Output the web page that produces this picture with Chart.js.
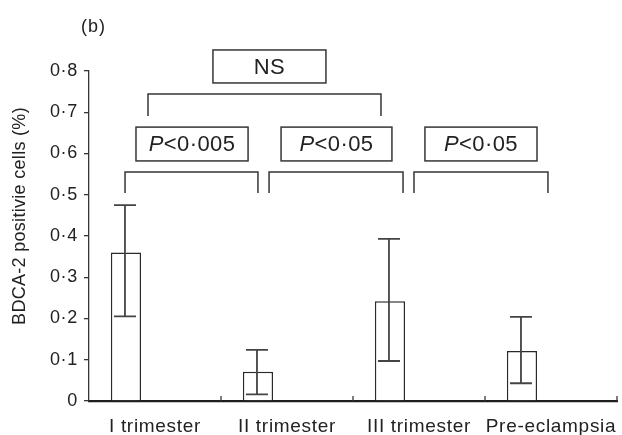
<!DOCTYPE html>
<html>
<head>
<meta charset="utf-8">
<script src="https://cdn.jsdelivr.net/npm/chart.js@4"></script>
<style>
  html, body { margin: 0; padding: 0; background: #fff; }
  #wrap { width: 622px; height: 435px; position: relative; }
</style>
</head>
<body>
<div id="wrap"><canvas id="c"></canvas></div>
<script>
// ---- data ----
const categories = ['I trimester', 'II trimester', 'III trimester', 'Pre-eclampsia'];
const meanValues = [0.36, 0.071, 0.242, 0.121];
const upperValues = [0.475, 0.124, 0.393, 0.204];
const lowerValues = [0.205, 0.016, 0.097, 0.043];
const yTickValues = [0, 0.1, 0.2, 0.3, 0.4, 0.5, 0.6, 0.7, 0.8];
const comparisonLabels = ['P<0·005', 'P<0·05', 'P<0·05', 'NS'];
const panelLabel = '(b)';
const yTitle = 'BDCA-2 positivie cells (%)';

// ---- annotation geometry (category units / value units) ----
const bracketGeom = [
  { x0: -0.227, x1: 0.78,  y: 0.555, leg: 0.504, bx0: -0.144, bx1: 0.705, by0: 0.582, by1: 0.664 },
  { x0: 0.864,  x1: 1.879, y: 0.555, leg: 0.504, bx0: 0.955,  bx1: 1.795, by0: 0.582, by1: 0.664 },
  { x0: 1.962,  x1: 2.977, y: 0.555, leg: 0.504, bx0: 2.045,  bx1: 2.894, by0: 0.582, by1: 0.664 },
  { x0: -0.053, x1: 1.712, y: 0.744, leg: 0.691, bx0: 0.439,  bx1: 1.295, by0: 0.771, by1: 0.851 }
];

const INK = '#222';
const LINE = '#363636';
const FAMILY = '"Liberation Sans", Arial, sans-serif';

const fmt = v => {
  if (Math.abs(v) < 1e-9) return '0';
  return v.toFixed(1).replace('.', '·');
};

const spacingPlugin = {
  id: 'spacing',
  beforeDraw(chart) {
    chart.ctx.letterSpacing = '0.7px';
  }
};

const annotPlugin = {
  id: 'annot',
  afterDatasetsDraw(chart) {
    const ctx = chart.ctx;
    const ys = chart.scales.y;
    const meta = chart.getDatasetMeta(0);
    ctx.save();
    ctx.strokeStyle = '#444';
    ctx.lineWidth = 1.8;
    meta.data.forEach((el, i) => {
      const x = el.x - 1;
      const yu = ys.getPixelForValue(upperValues[i]);
      const yl = ys.getPixelForValue(lowerValues[i]);
      const hw = 11;
      ctx.beginPath();
      ctx.moveTo(x, yu); ctx.lineTo(x, yl);
      ctx.moveTo(x - hw, yu); ctx.lineTo(x + hw, yu);
      ctx.moveTo(x - hw, yl); ctx.lineTo(x + hw, yl);
      ctx.stroke();
    });
    ctx.restore();
  },
  afterDraw(chart) {
    const ctx = chart.ctx;
    const xs = chart.scales.x, ys = chart.scales.y;
    ctx.save();
    ctx.strokeStyle = LINE;
    ctx.lineWidth = 1.3;
    const yb = ys.getPixelForValue(0);
    for (let i = 0; i < categories.length; i++) {
      const x = xs.getPixelForValue(i + 0.5);
      ctx.beginPath();
      ctx.moveTo(x, yb); ctx.lineTo(x, yb - 5);
      ctx.stroke();
    }
    bracketGeom.forEach((g, i) => {
      const x0 = xs.getPixelForValue(g.x0), x1 = xs.getPixelForValue(g.x1);
      const y = ys.getPixelForValue(g.y), yl = ys.getPixelForValue(g.leg);
      ctx.strokeStyle = LINE;
      ctx.lineWidth = 1.5;
      ctx.beginPath();
      ctx.moveTo(x0, yl); ctx.lineTo(x0, y); ctx.lineTo(x1, y); ctx.lineTo(x1, yl);
      ctx.stroke();
      const bx0 = xs.getPixelForValue(g.bx0), bx1 = xs.getPixelForValue(g.bx1);
      const by0 = ys.getPixelForValue(g.by0), by1 = ys.getPixelForValue(g.by1);
      ctx.fillStyle = '#fff';
      ctx.fillRect(bx0, by1, bx1 - bx0, by0 - by1);
      ctx.strokeRect(bx0, by1, bx1 - bx0, by0 - by1);
      const label = comparisonLabels[i];
      const cx = (bx0 + bx1) / 2, cy = (by0 + by1) / 2 + 1;
      ctx.fillStyle = INK;
      ctx.textBaseline = 'middle';
      ctx.letterSpacing = '0.4px';
      if (label.startsWith('P')) {
        const rest = label.slice(1);
        const fI = 'italic 22px ' + FAMILY;
        const fN = '22px ' + FAMILY;
        ctx.font = fI; const wP = ctx.measureText('P').width;
        ctx.font = fN; const wR = ctx.measureText(rest).width;
        const start = cx - (wP + wR) / 2;
        ctx.textAlign = 'left';
        ctx.font = fI; ctx.fillText('P', start, cy);
        ctx.font = fN; ctx.fillText(rest, start + wP, cy);
      } else {
        ctx.font = '22px ' + FAMILY;
        ctx.textAlign = 'center';
        ctx.fillText(label, cx, cy);
      }
    });
    ctx.letterSpacing = '1px';
    ctx.font = '18px ' + FAMILY;
    ctx.textAlign = 'left';
    ctx.textBaseline = 'middle';
    ctx.fillStyle = INK;
    ctx.fillText(panelLabel, 81, 27);
    ctx.letterSpacing = '0.3px';
    ctx.translate(20, 216);
    ctx.rotate(-Math.PI / 2);
    ctx.textAlign = 'center';
    ctx.font = '18px ' + FAMILY;
    ctx.fillText(yTitle, 0, 0);
    ctx.restore();
  }
};

new Chart(document.getElementById('c'), {
  type: 'bar',
  data: {
    labels: categories,
    datasets: [
      {
        data: meanValues,
        backgroundColor: '#ffffff',
        borderColor: '#2a2a2a',
        borderWidth: 1.5,
        borderSkipped: 'bottom',
        categoryPercentage: 0.88,
        barPercentage: 0.52
      },
      {
        data: categories.map(() => null),
        backgroundColor: 'rgba(0,0,0,0)',
        categoryPercentage: 0.88,
        barPercentage: 0.52
      }
    ]
  },
  options: {
    responsive: true,
    maintainAspectRatio: false,
    animation: false,
    layout: { padding: { top: 71, right: 5, left: 0, bottom: 0 } },
    plugins: { legend: { display: false }, tooltip: { enabled: false } },
    scales: {
      x: {
        type: 'category',
        offset: true,
        grid: { display: false },
        border: { display: true, width: 2.2, color: '#1e1e1e' },
        ticks: {
          color: INK,
          font: { family: FAMILY, size: 19 },
          padding: 6,
          maxRotation: 0,
          autoSkip: false
        },
        afterFit(s) { s.height = 34; }
      },
      y: {
        min: 0,
        max: 0.8,
        afterBuildTicks(s) { s.ticks = yTickValues.map(v => ({ value: v })); },
        grid: { drawOnChartArea: false, tickLength: 5, color: LINE, lineWidth: 1.3 },
        border: { display: true, width: 1.3, color: LINE },
        ticks: {
          color: INK,
          font: { family: FAMILY, size: 18 },
          padding: 6,
          callback: v => fmt(v)
        },
        afterFit(s) { s.width = 89; }
      }
    }
  },
  plugins: [spacingPlugin, annotPlugin]
});
</script>
</body>
</html>
